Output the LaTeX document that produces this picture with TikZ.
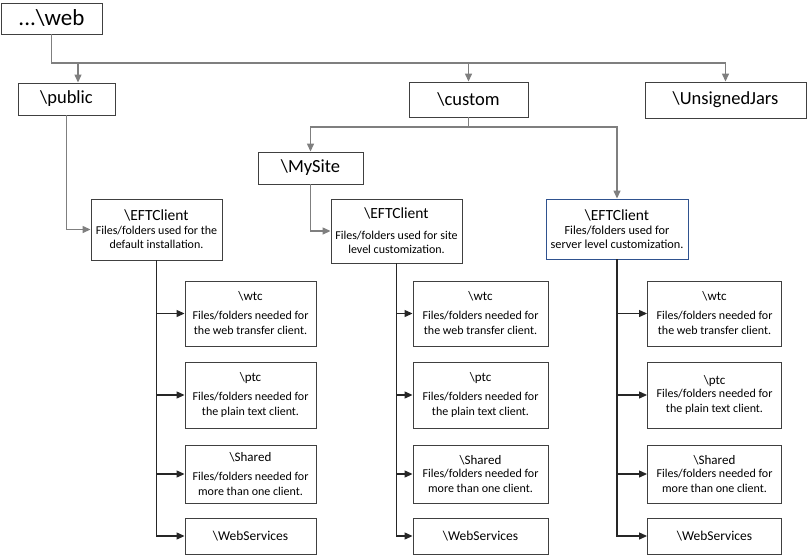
\documentclass[tikz,border=0pt]{standalone}
\usepackage{fontspec}
\setmainfont{Carlito}
\usetikzlibrary{arrows.meta}

\definecolor{boxgray}{HTML}{404040}
\definecolor{boxblue}{HTML}{2F528F}
\definecolor{linegray}{HTML}{7F7F7F}
\definecolor{linedark}{HTML}{262626}

\tikzset{
    folder/.style={draw=boxgray, line width=0.9pt, fill=white, align=center, inner sep=2pt},
    topconn/.style={draw=linegray, line width=1.3pt, -{Triangle[length=8pt, width=7pt]}},
    colconn/.style={draw=linedark, line width=1.2pt, -{Triangle[length=8pt, width=7pt]}},
}

\begin{document}
\begin{tikzpicture}[x=1pt, y=-1pt]
            \useasboundingbox (0,0) rectangle (810,557);

            % Draw the top level folders
            \node[folder, minimum width=101pt, minimum height=31pt, font=\fontsize{23}{26}\selectfont] (web) at (51.5,18.5) {...\textbackslash web};
            \node[folder, minimum width=97pt, minimum height=32pt, font=\fontsize{18.5}{21}\selectfont] (public) at (66.5,99) {\textbackslash public};
            \node[folder, minimum width=119pt, minimum height=35pt, font=\fontsize{18.5}{21}\selectfont] (custom) at (468.5,99.5) {\textbackslash custom};
            \node[folder, minimum width=161pt, minimum height=36pt, font=\fontsize{18.5}{21}\selectfont] (unsigned) at (725.5,100) {\textbackslash UnsignedJars};
            \node[folder, minimum width=105pt, minimum height=32pt, font=\fontsize{18.5}{21}\selectfont] (mysite) at (310.5,168) {\textbackslash MySite};

            % Draw the three EFTClient folders
            \node[folder, minimum width=131pt, minimum height=61pt, font=\fontsize{12}{14}\selectfont] (eft1) at (156.5,229.5)
                {{\fontsize{15.5}{17}\selectfont\textbackslash EFTClient}\\Files/folders used for the\\default installation.};
            \node[folder, minimum width=131pt, minimum height=64pt, font=\fontsize{12}{14}\selectfont] (eft2) at (396.5,231)
                {{\fontsize{15.5}{17}\selectfont\textbackslash EFTClient}\\[7pt]Files/folders used for site\\level customization.};
            \node[folder, draw=boxblue, minimum width=142pt, minimum height=60pt, font=\fontsize{12.3}{14}\selectfont] (eft3) at (617,229)
                {{\fontsize{15.5}{17}\selectfont\textbackslash EFTClient}\\Files/folders used for\\server level customization.};

            % Draw the connectors below web and custom
            \coordinate (bus) at (51.5,63);
            \coordinate (cbus) at (468.5,127);
            \draw[topconn] (web.south) -- (bus) -| (unsigned.north);
            \draw[topconn] (bus) -| ([xshift=11.5pt]public.north);
            \draw[topconn] (bus) -| (custom.north);
            \draw[topconn] (custom.south) -- (cbus) -| (mysite.north);
            \draw[topconn] (cbus) -| (eft3.north);
            \draw[topconn] (public.south) |- (eft1.west);
            \draw[topconn] (mysite.south) |- (eft2.west);

            % Draw the sub folders of every EFTClient
            \foreach \c/\xc/\w/\pg/\sg in {1/250.5/131pt/4pt/4pt, 2/480.5/135pt/4pt/-2pt, 3/714.5/134pt/-2pt/-2pt} {
                \node[folder, minimum width=\w, minimum height=65pt, font=\fontsize{12}{15}\selectfont] (wtc\c) at (\xc,313.5)
                    {{\fontsize{13}{15}\selectfont\textbackslash wtc}\\[4pt]Files/folders needed for\\the web transfer client.};
                \node[folder, minimum width=\w, minimum height=66pt, font=\fontsize{12}{15}\selectfont] (ptc\c) at (\xc,395)
                    {{\fontsize{13}{15}\selectfont\textbackslash ptc}\\[\pg]Files/folders needed for\\the plain text client.};
                \node[folder, minimum width=\w, minimum height=58pt, font=\fontsize{12}{15}\selectfont] (shared\c) at (\xc,474)
                    {{\fontsize{13}{15}\selectfont\textbackslash Shared}\\[\sg]Files/folders needed for\\more than one client.};
                \node[folder, minimum width=\w, minimum height=36pt, font=\fontsize{13.5}{16}\selectfont] (websrv\c) at (\xc,536)
                    {\textbackslash WebServices};

                \draw[colconn] (eft\c.south) |- (wtc\c.west);
                \draw[colconn] (eft\c.south) |- (ptc\c.west);
                \draw[colconn] (eft\c.south) |- (shared\c.west);
                \draw[colconn] (eft\c.south) |- (websrv\c.west);
            }
        \end{tikzpicture}
\end{document}
